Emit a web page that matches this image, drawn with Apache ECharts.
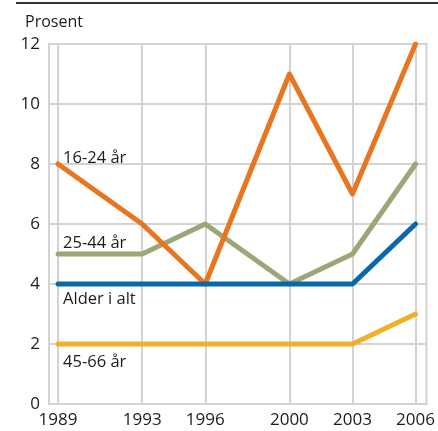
<!DOCTYPE html>
<html>
<head>
<meta charset="utf-8">
<script src="https://cdn.jsdelivr.net/npm/echarts@6/dist/echarts.min.js"></script>
<style>
  html, body { margin: 0; padding: 0; background: #fff; }
  #chart { width: 438px; height: 431px; }
</style>
</head>
<body>
<div id="chart"></div>
<script>
// år og verdier (prosent)
var years = [1989, 1993, 1996, 2000, 2003, 2006]
var yTicks = [0, 2, 4, 6, 8, 10, 12]
var alder1624 = [8, 6, 4, 11, 7, 12]
var alder2544 = [5, 5, 6, 4, 5, 8]
var alderIalt = [4, 4, 4, 4, 4, 6]
var alder4566 = [2, 2, 2, 2, 2, 3]

var font = '"Open Sans", "Noto Sans", sans-serif'
var textColor = '#1c1c1c'
var gridColor = '#d3d3d3'

function pairs(vals) {
  return years.map(function (y, i) { return [y, vals[i]] })
}

function lineSeries(name, vals, color, offsetY) {
  return {
    name: name,
    type: 'line',
    data: pairs(vals),
    symbol: 'circle',
    symbolSize: 0,
    showSymbol: true,
    lineStyle: { color: color, width: 5, cap: 'round', join: 'round' },
    itemStyle: { color: color },
    label: {
      show: true,
      position: 'right',
      distance: 5,
      offset: [0, offsetY],
      color: textColor,
      fontSize: 16.5,
      fontFamily: font,
      formatter: function (p) { return p.dataIndex === 0 ? name : '' }
    },
    emphasis: { disabled: true },
    z: 5
  }
}

var chart = echarts.init(document.getElementById('chart'))
chart.setOption({
  animation: false,
  title: {
    text: 'Prosent',
    left: 20,
    top: 9,
    textStyle: { fontSize: 16, fontWeight: 'normal', color: textColor, fontFamily: font }
  },
  graphic: [{
    type: 'line',
    shape: { x1: 16, y1: 3, x2: 438, y2: 3 },
    style: { stroke: '#333', lineWidth: 2 }
  }],
  grid: {
    left: 49, right: 11, top: 44, bottom: 27,
    show: true, borderColor: gridColor, borderWidth: 2
  },
  xAxis: {
    type: 'value',
    min: 1988.57,
    max: 2006.52,
    axisLine: { show: false },
    axisTick: { show: false },
    splitLine: { show: false },
    axisLabel: {
      customValues: years,
      margin: 8,
      color: textColor,
      fontSize: 17,
      fontFamily: font,
      formatter: function (v) { return String(v) }
    }
  },
  yAxis: {
    type: 'value',
    min: 0,
    max: 12,
    interval: 2,
    axisLine: { show: false },
    axisTick: { show: false },
    splitLine: { show: true, lineStyle: { color: gridColor, width: 2 } },
    axisLabel: { margin: 9, color: textColor, fontSize: 17, fontFamily: font }
  },
  series: [
    {
      // vertikale rutenettlinjer ved hvert år
      type: 'line',
      data: [],
      z: 0,
      silent: true,
      markLine: {
        silent: true,
        symbol: 'none',
        label: { show: false },
        lineStyle: { color: gridColor, width: 2, type: 'solid' },
        emphasis: { disabled: true },
        data: years.map(function (y) { return { xAxis: y } })
      }
    },
    lineSeries('45-66 år', alder4566, '#F2AF2A', 18),
    lineSeries('25-44 år', alder2544, '#9CA777', -11),
    lineSeries('16-24 år', alder1624, '#E8751F', -6),
    lineSeries('Alder i alt', alderIalt, '#0868AC', 15)
  ]
})
</script>
</body>
</html>
